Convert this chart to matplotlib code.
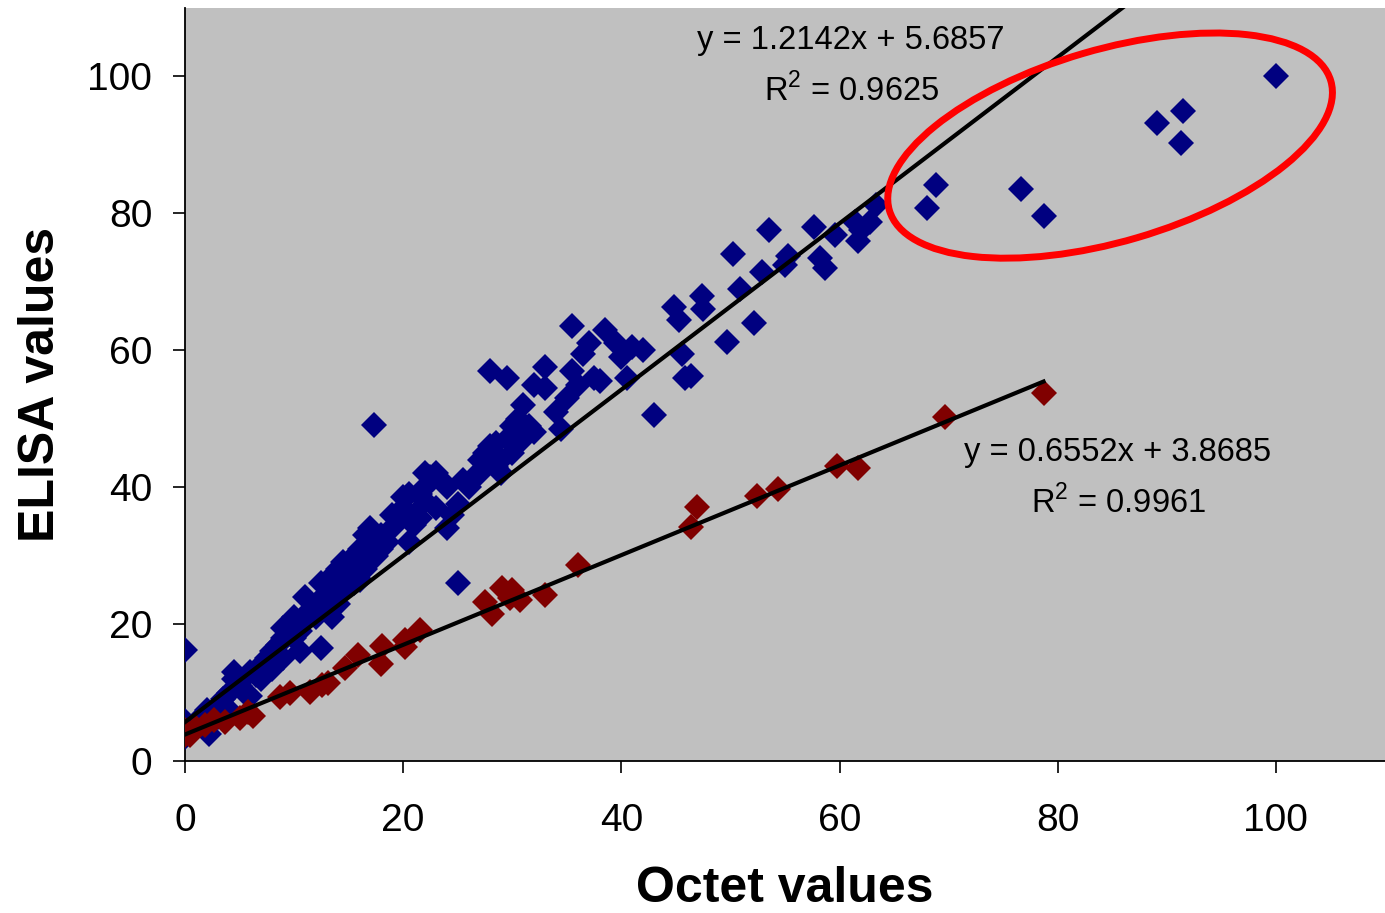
import numpy as np
import matplotlib
matplotlib.use('Agg')
import matplotlib.pyplot as plt
from matplotlib.patches import Ellipse
from matplotlib.transforms import ScaledTranslation

plt.rcParams['font.family'] = ['Liberation Sans', 'DejaVu Sans']
plt.rcParams['mathtext.fontset'] = 'custom'
plt.rcParams['mathtext.rm'] = 'Liberation Sans'

# blue series (Octet, ELISA)
blue_x = [0, 0, 0, 0, 0, 0.5, 1, 1.5, 2, 2.2, 2.5, 3, 3, 3.5, 4, 4, 4.5, 4.5,
          5, 5.5, 6, 6.5, 7, 7, 7.5, 8, 8, 8.5, 9, 9, 9.5, 10, 10, 10.5, 10.5,
          11, 11.5, 12, 12, 12.5, 12.5, 13, 13, 13.5, 14, 14, 14.5, 15, 15,
          15.5, 16, 16, 16.5, 17, 17, 17.3, 17.5, 18, 18, 19, 19.5, 20, 20,
          20.5, 21, 21, 21.5, 22, 22, 22.5, 23, 23, 24, 24, 24.5, 25, 25, 25.5,
          26, 27, 27.5, 28, 28, 28.5, 29, 29.5, 29.5, 30, 30, 31, 31, 32, 32,
          33, 33, 34, 34.5, 35, 35.5, 35.5, 36, 36.5, 37, 37.5, 38, 38.5, 39.5,
          40, 40.5, 41, 42, 43, 44.8, 45.3, 45.6, 45.8, 46.4, 47.4, 47.5, 49.7,
          50.2, 50.9, 52.2, 52.9, 53.5, 55, 55.3, 57.7, 58.2, 58.7, 59.6, 61.4,
          61.7, 62, 62.8, 63.3, 68, 68.8, 76.6, 78.7, 89.1, 91.3, 91.5, 100,
          5, 6, 7.5, 8.5, 9, 11, 13.5, 14.5, 15.5, 16.5, 17, 18.5, 19, 20.5,
          21.5, 22, 23.5, 26.5, 27, 28.5, 29, 30.5, 31.5]
blue_y = [3.5, 4.2, 5.0, 5.8, 16.2, 4.5, 5.5, 6.5, 7.5, 4.0, 6, 8, 6.5, 9, 10,
          7.5, 12, 13, 11, 10, 9.5, 12.5, 14, 12, 15, 16, 13.5, 17, 18, 15, 20,
          21, 18, 16, 19, 20.5, 22, 23, 21, 26, 16.5, 24.5, 22, 27, 28, 23, 25,
          29, 27, 30, 31, 26.5, 33, 34, 32, 49.1, 30, 31, 33, 34, 35.5, 38.5,
          37, 32, 36, 34.5, 39, 40, 38, 41.5, 37, 42, 40, 34, 36, 37.5, 26, 41,
          40, 42, 45, 46, 57, 43, 44, 47, 56, 49, 45, 47, 52, 48, 55, 57.5,
          54.5, 51, 48.5, 53, 63.5, 57, 55, 59.5, 61, 56, 55.5, 63, 61, 59, 56,
          60.5, 60, 50.5, 66.3, 64.4, 59.5, 56, 56.3, 68, 66, 61.2, 74, 69, 64,
          71.5, 77.5, 72.5, 73.8, 78, 73.5, 72, 76.8, 78.8, 76, 77.5, 78.8,
          81.2, 80.8, 84.2, 83.6, 79.6, 93.2, 90.3, 95, 100,
          12, 13, 13, 14.5, 19.5, 24, 21, 29, 26, 28, 30.5, 32, 36, 39, 35.5,
          42, 41, 41.5, 44, 46.5, 42, 50, 49]

# red series
red_x = [0, 0, 0.5, 1, 1.8, 2.7, 3.7, 5, 5.8, 6.2, 8.7, 9.6, 11.5, 12.6, 13.1,
         14.7, 15.9, 18, 18.1, 20.2, 20.2, 21.5, 27.5, 28.1, 29.1, 30, 29.8,
         30.7, 33, 36, 46.4, 46.9, 52.4, 54.4, 59.8, 61.7, 69.7, 78.7]
red_y = [3.8, 4.5, 3.8, 4.8, 5.3, 6, 5.7, 6.3, 7.2, 6.6, 9.3, 9.9, 10.1, 11.1,
         11.4, 13.6, 15.5, 14.2, 16.8, 16.6, 17.7, 19.1, 23.2, 21.5, 25.3, 25,
         23.8, 23.5, 24.2, 28.6, 34.2, 37.1, 38.7, 39.7, 43.1, 42.8, 50.2, 53.7]

blue_fit = (1.2142, 5.6857, 0.9625)
red_fit = (0.6552, 3.8685, 0.9961)

BLUE = '#000080'
RED = '#800000'

fig = plt.figure(figsize=(13.85, 9.13), dpi=100)
ax = fig.add_axes([185 / 1385, 1 - 761 / 913, 1 - 185 / 1385, (761 - 8) / 913])
ax.set_facecolor('#C0C0C0')

ax.plot(blue_x, blue_y, 'D', color=BLUE, ms=13.5, mew=0, zorder=3)
ax.plot(red_x, red_y, 'D', color=RED, ms=13.5, mew=0, zorder=4)

for xs, (m, b, r2) in ((blue_x, blue_fit), (red_x, red_fit)):
    xx = np.array([min(xs), max(xs)])
    ax.plot(xx, m * xx + b, color='black', lw=3, zorder=5)

fs = 23.5
ax.text(61.0, 105.2, 'y = %.4fx + %.4f' % blue_fit[:2], fontsize=fs,
        ha='center', va='center', zorder=6)
ax.text(61.1, 98.0, 'R$^2$ = %.4f' % blue_fit[2], fontsize=fs,
        ha='center', va='center', zorder=6)
ax.text(85.5, 45.0, 'y = %.4fx + %.4f' % red_fit[:2], fontsize=fs,
        ha='center', va='center', zorder=6)
ax.text(85.6, 37.8, 'R$^2$ = %.4f' % red_fit[2], fontsize=fs,
        ha='center', va='center', zorder=6)

# red ellipse around the high outliers
ell = Ellipse((0, 0), 4.6, 1.92, angle=16.35, fill=False, ec='#FF0000', lw=5,
              transform=fig.dpi_scale_trans + ScaledTranslation(84.8, 89.9, ax.transData),
              zorder=7, clip_on=False)
ax.add_patch(ell)

ax.set_xlim(0, 110)
ax.set_ylim(0, 110)
ax.set_xticks(np.arange(0, 101, 20))
ax.set_yticks(np.arange(0, 101, 20))
ax.tick_params(axis='both', direction='out', length=8.5, width=1.2, labelsize=28)
ax.tick_params(axis='x', pad=22)
ax.tick_params(axis='y', pad=15)
for s in ('top', 'right'):
    ax.spines[s].set_visible(False)
for s in ('left', 'bottom'):
    ax.spines[s].set_linewidth(1.3)

ax.set_xlabel('Octet values', fontsize=36, fontweight='bold', labelpad=19)
ax.set_ylabel('ELISA values', fontsize=36, fontweight='bold', labelpad=17)

fig.savefig('out.png', dpi=100)
